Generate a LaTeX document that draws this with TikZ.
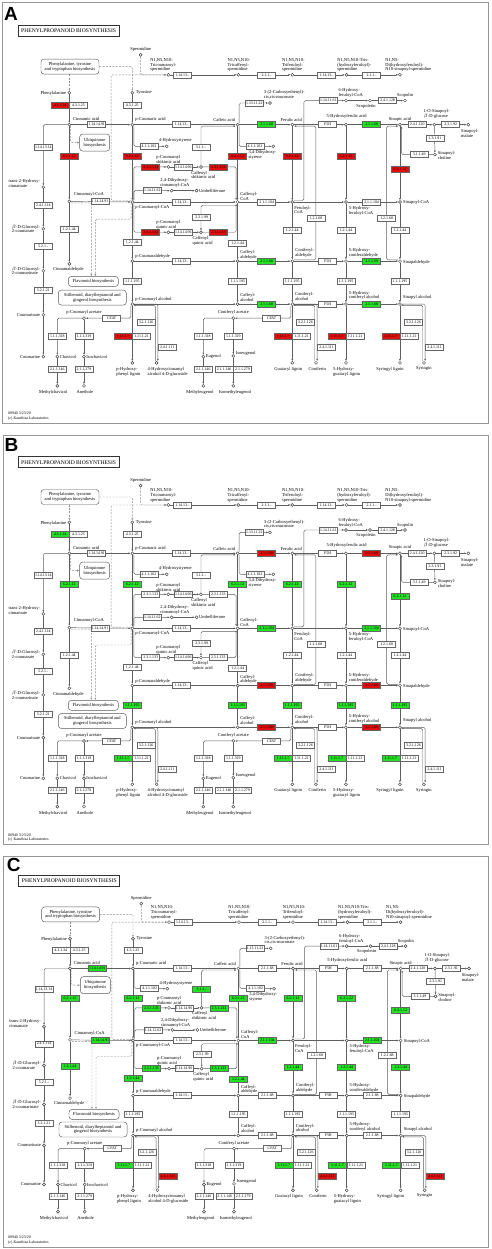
\documentclass[tikz,border=0pt]{standalone}
\usepackage{fontspec}
\setmainfont{Liberation Serif}
\newfontfamily\panelfont{Liberation Sans}
\usetikzlibrary{arrows.meta,positioning}
\pgfdeclarelayer{bg}
\pgfsetlayers{bg,main}
\definecolor{kred}{RGB}{226,14,14}
\definecolor{kgreen}{RGB}{36,224,36}
\definecolor{kline}{RGB}{95,95,95}
\definecolor{kframe}{RGB}{150,150,150}
% colour of each enzyme group, set again in each panel
\colorlet{cPAL}{white}
\colorlet{cCFH}{white}
\colorlet{cFCL}{white}
\colorlet{cHCT}{white}
\colorlet{cCSE}{white}
\colorlet{cCOMT}{white}
\colorlet{cCCOMT}{white}
\colorlet{cCCR}{white}
\colorlet{cCAD}{white}
\colorlet{cPRX}{white}
\colorlet{cUGT}{white}
\tikzset{
  enz/.style={draw=black!60, fill=#1, line width=0.4pt, minimum width=18pt,
    minimum height=6pt, inner sep=0.4pt, font=\fontsize{3.9}{4}\selectfont},
  enz/.default=white,
  cpd/.style={circle, draw=black!75, fill=white, line width=0.45pt,
    minimum size=3pt, inner sep=0pt},
  lbl/.style={font=\fontsize{4.5}{4.8}\selectfont, inner sep=0.3pt, align=left},
  mapbox/.style={draw=black!65, fill=white, rounded corners=3pt, line width=0.45pt,
    font=\fontsize{4.5}{4.8}\selectfont, align=center, inner sep=1pt},
  titlebox/.style={draw=black!80, fill=white, line width=0.8pt, minimum width=101pt,
    minimum height=11pt, inner sep=0pt, font=\fontsize{5.6}{6}\selectfont},
  ln/.style={draw=kline, line width=0.45pt, rounded corners=1.5pt},
  arr/.style={ln, -{Latex[length=2.2pt,width=1.9pt]}},
  dln/.style={ln, draw=black!45, dash pattern=on 2pt off 1.3pt},
  darr/.style={dln, -{Latex[open,length=2.2pt,width=2pt]}},
  dfarr/.style={dln, -{Latex[length=2.2pt,width=1.9pt]}},
  panelframe/.style={draw=kframe, line width=0.8pt},
  plet/.style={font=\panelfont\fontsize{19}{19}\bfseries\selectfont, inner sep=0pt},
  foot/.style={font=\fontsize{3.9}{4.7}\selectfont, inner sep=0pt, align=left},
}
\newcommand\keggmap{%
  % title and linked maps
  \node[titlebox] (title) at (206,142) {PHENYLPROPANOID BIOSYNTHESIS};
  \node[mapbox, minimum width=58pt, minimum height=15pt] (paa) at (210,246) {Phenylalanine, tyrosine\\and tryptophan biosynthesis};
  \node[mapbox, minimum width=30pt, minimum height=17pt] (ubq) at (284,467) {Ubiquinone\\biosynthesis};
  \node[mapbox, minimum width=50pt, minimum height=10pt] (flv) at (280,871) {Flavonoid biosynthesis};
  \node[mapbox, minimum width=68pt, minimum height=15pt] (stb) at (277,918) {Stilbenoid, diarylheptanoid and\\gingerol biosynthesis};
  % compounds
  \node[cpd] (spd) at (422,212) {};
  \node[cpd] (tcs) at (505,270) {};
  \node[cpd] (tcaf) at (715,270) {};
  \node[cpd] (tfer) at (877,270) {};
  \node[cpd] (thfs) at (1040,270) {};
  \node[cpd] (dhs) at (1200,270) {};
  \node[cpd] (phe) at (208,322) {};
  \node[cpd] (tyr) at (397,322) {};
  \node[cpd] (cin) at (208,415) {};
  \node[cpd] (pca) at (397,415) {};
  \node[cpd] (caf) at (713,415) {};
  \node[cpd] (fer) at (877,415) {};
  \node[cpd] (hfa) at (1038,415) {};
  \node[cpd] (sin) at (1200,415) {};
  \node[cpd] (sglc) at (1303,415) {};
  \node[cpd] (smal) at (1405,415) {};
  \node[cpd] (schol) at (1305,502) {};
  \node[cpd] (cmuc) at (810,352) {};
  \node[cpd] (hfc6) at (1038,345) {};
  \node[cpd] (scop) at (1110,345) {};
  \node[cpd] (scpn) at (1215,345) {};
  \node[cpd] (hst) at (500,478) {};
  \node[cpd] (dhst) at (820,478) {};
  \node[cpd] (t2h) at (130,597) {};
  \node[cpd] (bgc) at (130,718) {};
  \node[cpd] (bgcn) at (130,840) {};
  \node[cpd] (cmt) at (130,968) {};
  \node[cpd] (cmn) at (130,1090) {};
  \node[cpd] (cincoa) at (208,638) {};
  \node[cpd] (pcoa) at (397,640) {};
  \node[cpd] (cafcoa) at (713,640) {};
  \node[cpd] (fercoa) at (877,640) {};
  \node[cpd] (hfcoa) at (1038,640) {};
  \node[cpd] (scoa) at (1200,640) {};
  \node[cpd] (pcsh) at (505,538) {};
  \node[cpd] (cfsh) at (603,538) {};
  \node[cpd] (dhcc) at (515,607) {};
  \node[cpd] (umb) at (590,607) {};
  \node[cpd] (pcq) at (505,728) {};
  \node[cpd] (cfq) at (603,728) {};
  \node[cpd] (cal) at (208,820) {};
  \node[cpd] (pcal) at (397,812) {};
  \node[cpd] (cfal) at (713,812) {};
  \node[cpd] (coal) at (877,812) {};
  \node[cpd] (hcoal) at (1038,812) {};
  \node[cpd] (sal) at (1200,812) {};
  \node[cpd] (pcol) at (397,937) {};
  \node[cpd] (cfol) at (713,937) {};
  \node[cpd] (cool) at (877,937) {};
  \node[cpd] (hcool) at (1038,937) {};
  \node[cpd] (sol) at (1200,937) {};
  \node[cpd] (pcac) at (252,978) {};
  \node[cpd] (coac) at (700,978) {};
  \node[cpd] (chav) at (172,1090) {};
  \node[cpd] (ichav) at (252,1090) {};
  \node[cpd] (mchav) at (172,1175) {};
  \node[cpd] (anet) at (252,1175) {};
  \node[cpd] (eug) at (610,1090) {};
  \node[cpd] (ieug) at (700,1088) {};
  \node[cpd] (meug) at (610,1175) {};
  \node[cpd] (imeug) at (700,1175) {};
  \node[cpd] (hpl) at (397,1108) {};
  \node[cpd] (hcg) at (470,1108) {};
  \node[cpd] (gl) at (877,1108) {};
  \node[cpd] (cnf) at (948,1108) {};
  \node[cpd] (hgl) at (1038,1108) {};
  \node[cpd] (syl) at (1200,1108) {};
  \node[cpd] (syr) at (1272,1108) {};
  % compound names
  \node[lbl, anchor=south] (spdL) at (422,204) {Spermidine};
  \node[lbl, anchor=south] (tcsL) at (490,263) {N1,N5,N10-\\Tricoumaroyl-\\spermidine};
  \node[lbl, anchor=south] (tcafL) at (717,263) {N1,N5,N10-\\Tricaffeoyl-\\spermidine};
  \node[lbl, anchor=south] (tferL) at (880,263) {N1,N5,N10-\\Triferuloyl-\\spermidine};
  \node[lbl, anchor=south] (thfsL) at (1063,263) {N1,N5,N10-Tris-\\(hydroxyferuloyl)-\\spermidine};
  \node[lbl, anchor=south] (dhsL) at (1225,263) {N1,N5-\\Di(hydroxyferuloyl)-\\N10-sinapoyl-spermidine};
  \node[lbl, anchor=east] (pheL) at (200,325) {Phenylalanine};
  \node[lbl, anchor=west] (tyrL) at (406,322) {Tyrosine};
  \node[lbl, anchor=south west] (cinL) at (218,405) {Cinnamic acid};
  \node[lbl, anchor=south west] (pcaL) at (405,408) {p-Coumaric acid};
  \node[lbl, anchor=south east] (cafL) at (707,408) {Caffeic acid};
  \node[lbl, anchor=south] (ferL) at (874,408) {Ferulic acid};
  \node[lbl, anchor=south] (hfaL) at (1040,398) {5-Hydroxyferulic acid};
  \node[lbl, anchor=south] (sinL) at (1200,406) {Sinapic acid};
  \node[lbl, anchor=south] (sglcL) at (1310,398) {1-O-Sinapoyl-\\$\beta$-D-glucose};
  \node[lbl, anchor=north west] (smalL) at (1382,428) {Sinapoyl-\\malate};
  \node[lbl, anchor=west] (scholL) at (1312,505) {Sinapoyl-\\choline};
  \node[lbl, anchor=south west] (cmucL) at (790,342) {3-(2-Carboxyethenyl)-\\cis,cis-muconate};
  \node[lbl, anchor=south] (hfc6L) at (1052,338) {6-Hydroxy-\\feruloyl-CoA};
  \node[lbl, anchor=north] (scopL) at (1098,354) {Scopoletin};
  \node[lbl, anchor=south west] (scpnL) at (1190,338) {Scopolin};
  \node[lbl, anchor=south west] (hstL) at (475,468) {4-Hydroxystyrene};
  \node[lbl, anchor=north] (dhstL) at (788,488) {3,4-Dihydroxy-\\styrene};
  \node[lbl, anchor=south east] (t2hL) at (122,600) {trans-2-Hydroxy-\\cinnamate};
  \node[lbl, anchor=east] (bgcL) at (122,718) {$\beta$-D-Glucosyl-\\2-coumarate};
  \node[lbl, anchor=east] (bgcnL) at (122,840) {$\beta$-D-Glucosyl-\\2-coumarinate};
  \node[lbl, anchor=east] (cmtL) at (122,968) {Coumarinate};
  \node[lbl, anchor=east] (cmnL) at (122,1090) {Coumarine};
  \node[lbl, anchor=south west] (cincoaL) at (220,625) {Cinnamoyl-CoA};
  \node[lbl, anchor=north west] (pcoaL) at (405,648) {p-Coumaroyl-CoA};
  \node[lbl, anchor=south west] (cafcoaL) at (720,636) {Caffeoyl-\\CoA};
  \node[lbl, anchor=north west] (fercoaL) at (882,650) {Feruloyl-\\CoA};
  \node[lbl, anchor=north west] (hfcoaL) at (1045,652) {5-Hydroxy-\\feruloyl-CoA};
  \node[lbl, anchor=west] (scoaL) at (1208,642) {Sinapoyl-CoA};
  \node[lbl, anchor=south] (pcshL) at (505,530) {p-Coumaroyl\\shikimic acid};
  \node[lbl, anchor=north] (cfshL) at (610,548) {Caffeoyl\\shikimic acid};
  \node[lbl, anchor=south] (dhccL) at (525,600) {2,4-Dihydroxy-\\cinnamoyl-CoA};
  \node[lbl, anchor=west] (umbL) at (596,607) {Umbelliferone};
  \node[lbl, anchor=south] (pcqL) at (505,720) {p-Coumaroyl\\quinic acid};
  \node[lbl, anchor=north] (cfqL) at (608,738) {Caffeoyl\\quinic acid};
  \node[lbl, anchor=north] (calL) at (205,830) {Cinnamaldehyde};
  \node[lbl, anchor=south west] (pcalL) at (405,806) {p-Coumaraldehyde};
  \node[lbl, anchor=south west] (cfalL) at (720,808) {Caffeyl-\\aldehyde};
  \node[lbl, anchor=south west] (coalL) at (885,803) {Coniferyl-\\aldehyde};
  \node[lbl, anchor=south west] (hcoalL) at (1045,803) {5-Hydroxy-\\coniferaldehyde};
  \node[lbl, anchor=west] (salL) at (1208,815) {Sinapaldehyde};
  \node[lbl, anchor=south west] (pcolL) at (405,930) {p-Coumaryl alcohol};
  \node[lbl, anchor=south west] (cfolL) at (720,930) {Caffeyl-\\alcohol};
  \node[lbl, anchor=south west] (coolL) at (884,927) {Coniferyl-\\alcohol};
  \node[lbl, anchor=south west] (hcoolL) at (1045,926) {5-Hydroxy-\\coniferyl alcohol};
  \node[lbl, anchor=south west] (solL) at (1208,925) {Sinapyl alcohol};
  \node[lbl, anchor=south] (pcacL) at (252,970) {p-Coumaryl acetate};
  \node[lbl, anchor=south] (coacL) at (700,970) {Coniferyl acetate};
  \node[lbl, anchor=west] (chavL) at (178,1090) {Chavicol};
  \node[lbl, anchor=west] (ichavL) at (258,1090) {Isochavicol};
  \node[lbl, anchor=north] (mchavL) at (160,1188) {Methylchavicol};
  \node[lbl, anchor=north] (anetL) at (255,1188) {Anethole};
  \node[lbl, anchor=west] (eugL) at (616,1090) {Eugenol};
  \node[lbl, anchor=west] (ieugL) at (706,1080) {Isoeugenol};
  \node[lbl, anchor=north] (meugL) at (600,1188) {Methyleugenol};
  \node[lbl, anchor=north] (imeugL) at (705,1188) {Isomethyleugenol};
  \node[lbl, anchor=north] (hplL) at (385,1120) {p-Hydroxy-\\phenyl lignin};
  \node[lbl, anchor=north] (hcgL) at (503,1120) {4-Hydroxycinnamyl\\alcohol 4-D-glucoside};
  \node[lbl, anchor=north] (glL) at (865,1120) {Guaiacyl lignin};
  \node[lbl, anchor=north] (cnfL) at (952,1120) {Coniferin};
  \node[lbl, anchor=north] (hglL) at (1040,1120) {5-Hydroxy-\\guaiacyl lignin};
  \node[lbl, anchor=north] (sylL) at (1170,1120) {Syringyl lignin};
  \node[lbl, anchor=north] (syrL) at (1272,1118) {Syringin};
  % enzymes
  \node[enz] (e1) at (547,270) {1.14.13.-};
  \node[enz] (e2) at (800,270) {2.1.1.-};
  \node[enz] (e3) at (980,270) {1.14.13.-};
  \node[enz] (e4) at (1115,270) {2.1.1.-};
  \node[enz=cPAL, anchor=east] (pal) at (208,358) {4.3.1.24};
  \node[enz, anchor=west] (tal1) at (208,358) {4.3.1.25};
  \node[enz] (tal2) at (397,358) {4.3.1.25};
  \node[enz=cCFH] (c4h1) at (290,415) {1.14.14.91};
  \node[enz] (c3h1) at (545,415) {1.14.13.-};
  \node[enz=cCOMT] (comt1) at (800,415) {2.1.1.68};
  \node[enz] (f5h1) at (983,415) {F5H};
  \node[enz=cCOMT] (comt2) at (1115,415) {2.1.1.68};
  \node[enz] (sgt) at (1252,415) {2.4.1.120};
  \node[enz] (sst) at (1352,415) {2.3.1.92};
  \node[enz] (scl) at (1305,455) {2.3.1.91};
  \node[enz] (sce) at (1258,502) {3.1.1.49};
  \node[enz] (ccmo) at (763,352) {1.13.11.22};
  \node[enz] (f6h) at (985,345) {1.14.11.61};
  \node[enz] (sgl) at (1163,345) {2.4.1.128};
  \node[enz] (c2h) at (130,480) {1.14.13.14};
  \node[enz] (gt) at (130,650) {2.4.1.114};
  \node[enz] (iso) at (130,770) {5.2.1.-};
  \node[enz] (bgl) at (130,898) {3.2.1.21};
  \node[enz] (pad1) at (447,478) {4.1.1.102};
  \node[enz] (pad2) at (765,478) {4.1.1.102};
  \node[enz=cFCL] (fcl1) at (208,508) {6.2.1.12};
  \node[enz=cFCL] (fcl2) at (397,508) {6.2.1.12};
  \node[enz=cFCL] (fcl3) at (713,508) {6.2.1.12};
  \node[enz=cFCL] (fcl4) at (877,508) {6.2.1.12};
  \node[enz=cFCL] (fcl5) at (1038,508) {6.2.1.12};
  \node[enz=cFCL] (fcl6) at (1200,545) {6.2.1.12};
  \node[enz=cCSE] (cse) at (603,480) {3.1.1.-};
  \node[enz=cHCT] (hct1) at (452,538) {2.3.1.133};
  \node[enz] (c3h2) at (550,538) {1.14.14.96};
  \node[enz=cHCT] (hct2) at (655,538) {2.3.1.133};
  \node[enz] (c2h2) at (457,607) {1.14.11.62};
  \node[enz=cCFH] (c4h2) at (300,639) {1.14.14.91};
  \node[enz] (c3h3) at (545,640) {1.14.13.-};
  \node[enz=cCCOMT] (ccomt1) at (800,640) {2.1.1.104};
  \node[enz=cCCOMT] (ccomt2) at (1115,640) {2.1.1.104};
  \node[enz=cHCT] (hqt1) at (452,728) {2.3.1.133};
  \node[enz] (c3h4) at (550,728) {1.14.14.96};
  \node[enz=cHCT] (hqt2) at (655,728) {2.3.1.133};
  \node[enz] (hqt3) at (605,684) {2.3.1.99};
  \node[enz=cCCR] (ccr1) at (208,720) {1.2.1.44};
  \node[enz=cCCR] (ccr2) at (397,758) {1.2.1.44};
  \node[enz=cCCR] (ccr3) at (713,760) {1.2.1.44};
  \node[enz=cCCR] (ccr4) at (877,722) {1.2.1.44};
  \node[enz=cCCR] (ccr5) at (1038,722) {1.2.1.44};
  \node[enz=cCCR] (ccr6) at (1200,722) {1.2.1.44};
  \node[enz] (ald1) at (948,687) {1.2.1.68};
  \node[enz] (ald2) at (1160,687) {1.2.1.68};
  \node[enz] (c3h5) at (545,812) {1.14.13.-};
  \node[enz=cCOMT] (comt3) at (800,812) {2.1.1.68};
  \node[enz] (f5h2) at (983,812) {F5H};
  \node[enz=cCOMT] (comt4) at (1115,812) {2.1.1.68};
  \node[enz=cCAD] (cad1) at (397,870) {1.1.1.195};
  \node[enz=cCAD] (cad2) at (713,870) {1.1.1.195};
  \node[enz=cCAD] (cad3) at (877,870) {1.1.1.195};
  \node[enz=cCAD] (cad4) at (1038,870) {1.1.1.195};
  \node[enz=cCAD] (cad5) at (1200,870) {1.1.1.195};
  \node[enz=cCOMT] (comt5) at (800,937) {2.1.1.68};
  \node[enz] (f5h3) at (983,937) {F5H};
  \node[enz=cCOMT] (comt6) at (1115,937) {2.1.1.68};
  \node[enz] (cfat1) at (335,978) {CFAT};
  \node[enz] (cfat2) at (815,978) {CFAT};
  \node[enz] (eus1) at (172,1030) {1.1.1.318};
  \node[enz] (ies1) at (252,1030) {1.1.1.319};
  \node[enz] (omt1) at (172,1127) {2.1.1.146};
  \node[enz] (omt2) at (252,1127) {2.1.1.279};
  \node[enz] (eus2) at (610,1030) {1.1.1.318};
  \node[enz] (ies2) at (700,1030) {1.1.1.319};
  \node[enz] (omt3) at (610,1127) {2.1.1.146};
  \node[enz, anchor=east] (omt4) at (700,1127) {2.1.1.146};
  \node[enz, anchor=west] (omt5) at (700,1127) {2.1.1.279};
  \node[enz=cPRX, anchor=east] (prx1) at (397,1030) {1.11.1.7};
  \node[enz, anchor=west] (lac1) at (397,1030) {1.11.1.21};
  \node[enz=cPRX, anchor=east] (prx2) at (877,1030) {1.11.1.7};
  \node[enz, anchor=west] (lac2) at (877,1030) {1.11.1.21};
  \node[enz=cPRX, anchor=east] (prx3) at (1038,1030) {1.11.1.7};
  \node[enz, anchor=west] (lac3) at (1038,1030) {1.11.1.21};
  \node[enz=cPRX, anchor=east] (prx4) at (1200,1030) {1.11.1.7};
  \node[enz, anchor=west] (lac4) at (1200,1030) {1.11.1.21};
  \node[enz, anchor=east] (bglu1) at (466,990) {3.2.1.126};
  \node[enz, anchor=east] (bglu2) at (944,990) {3.2.1.126};
  \node[enz, anchor=east] (bglu3) at (1268,990) {3.2.1.126};
  \node[enz=cUGT, anchor=west] (ugt1) at (474,1063) {2.4.1.111};
  \node[enz=cUGT, anchor=west] (ugt2) at (952,1063) {2.4.1.111};
  \node[enz=cUGT, anchor=west] (ugt3) at (1276,1063) {2.4.1.111};
  % reactions, under the boxes
  \begin{pgfonlayer}{bg}
    \draw[dfarr] (spd) |- (tcs);
    \draw[dfarr] (pcoa.north west) -- ++(-60,0) |- (tcs);
    \draw[darr] (paa.south -| phe) -- (phe);
    \draw[darr] (paa.east) -| (tyr);
    \draw[arr] (tcs) -- (tcaf);
    \draw[arr] (tcaf) -- (tfer);
    \draw[arr] (tfer) -- (thfs);
    \draw[arr] (thfs) -- (dhs);
    \draw[arr] (phe) -- (cin);
    \draw[arr] (tyr) -- (pca);
    \draw[arr] (cin) -- (pca);
    \draw[arr] (cin) -| (t2h);
    \draw[darr] (cin.south east) |- (ubq);
    \draw[arr] (cin) -- (cincoa);
    \draw[arr] (cincoa) -- (pcoa);
    \draw[arr] (cincoa) -- (cal);
    \draw[darr] ([yshift=-1.5pt]cincoa.east) -| ([xshift=-2pt]flv.north);
    \draw[darr] (pcoa.south west) |- (286,690) -- ([xshift=2pt]flv.north);
    \draw[arr] (t2h) -- (bgc);
    \draw[arr] (bgc) -- (bgcn);
    \draw[arr] (bgcn) -- (cmt);
    \draw[arr] (cmt) -- (cmn);
    \draw[arr] (pca) -- (pcoa);
    \draw[arr] ([xshift=1.5pt]pca.south) |- (hst);
    \draw[arr] (pca) -- (caf);
    \draw[arr] ([xshift=1.5pt]pcoa.north) |- (pcsh);
    \draw[arr] ([xshift=1.5pt]pcoa.north) |- (dhcc);
    \draw[arr] (dhcc) -- (umb);
    \draw[arr] (pcsh) -- (cfsh);
    \draw[arr] (cfsh) -| ([xshift=-1.5pt]cafcoa.north);
    \draw[arr] (cfsh) |- ([yshift=-1.5pt]caf.west);
    \draw[arr] (pcoa) -- (cafcoa);
    \draw[arr] ([xshift=1.5pt]pcoa.south) |- (pcq);
    \draw[arr] (pcq) -- (cfq);
    \draw[arr] (cfq) -| ([xshift=-1.5pt]cafcoa.south);
    \draw[arr] ([yshift=-1.5pt]cafcoa.south) -| (cfq);
    \draw[arr] (pcoa) -- (pcal);
    \draw[arr] ([xshift=1.5pt]caf.north) |- (cmuc);
    \draw[arr] ([xshift=1.5pt]caf.south) |- (dhst);
    \draw[arr] (caf) -- (fer);
    \draw[arr] (caf) -- (cafcoa);
    \draw[arr] (cafcoa) -- (fercoa);
    \draw[arr] (cafcoa) -- (cfal);
    \draw[arr] (pcal) -- (cfal);
    \draw[arr] (pcal) -- (pcol);
    \draw[arr] (pcol) -- (cfol);
    \draw[arr] ([xshift=-1.5pt]pcol.south) |- (pcac);
    \draw[arr] (pcac) -| (chav);
    \draw[arr] (pcac) -- (ichav);
    \draw[arr] (chav) -- (mchav);
    \draw[arr] (ichav) -- (anet);
    \draw[arr] (pcol) -- (hpl);
    \draw[arr] (pcol) -| ([xshift=1.2pt]hcg.north);
    \draw[arr] ([xshift=-1.2pt]hcg.north) |- (pcol.south east);
    \draw[arr] (cfal) -- (coal);
    \draw[arr] (cfal) -- (cfol);
    \draw[arr] (cfol) -- (cool);
    \draw[arr] (fer) -- (hfa);
    \draw[arr] (hfa) -- (sin);
    \draw[arr] (fer) -- (fercoa);
    \draw[arr] ([yshift=1.5pt]fercoa.east) -| (912,420) |- (hfc6);
    \draw[arr] (hfc6) -- (scop);
    \draw[arr] (scop) -- (scpn);
    \draw[arr] ([yshift=1.2pt]coal.east) -| (948,600) |- ([yshift=-1.5pt]fer.east);
    \draw[arr] (fercoa) -- (hfcoa);
    \draw[arr] (fercoa) -- (coal);
    \draw[arr] (coal) -- (hcoal);
    \draw[arr] (coal) -- (cool);
    \draw[arr] (cool) -- (hcool);
    \draw[arr] ([xshift=-1.5pt]cool.south) |- (coac);
    \draw[arr] (coac) -| (eug);
    \draw[arr] (coac) -- (ieug);
    \draw[arr] (eug) -- (meug);
    \draw[arr] (ieug) -- (imeug);
    \draw[arr] (cool) -- (gl);
    \draw[arr] (cool) -| ([xshift=1.2pt]cnf.north);
    \draw[arr] ([xshift=-1.2pt]cnf.north) |- (cool.south east);
    \draw[arr] (hfa) -- (hfcoa);
    \draw[arr] (hfcoa) -- (scoa);
    \draw[arr] (hfcoa) -- (hcoal);
    \draw[arr] (hcoal) -- (sal);
    \draw[arr] (hcoal) -- (hcool);
    \draw[arr] (hcool) -- (sol);
    \draw[arr] (hcool) -- (hgl);
    \draw[arr] (sin) -- (scoa);
    \draw[arr] (scoa) -- (sal);
    \draw[arr] (sal) -- (sol);
    \draw[arr] (sol) -- (syl);
    \draw[arr] (sol) -| ([xshift=1.2pt]syr.north);
    \draw[arr] ([xshift=-1.2pt]syr.north) |- (sol.south east);
    \draw[arr] ([yshift=1.2pt]sal.west) -| (1160,600) |- ([yshift=-1.5pt]sin.west);
    \draw[arr] (sin) -- (sglc);
    \draw[arr] (sglc) -- (smal);
    \draw[arr] (sglc) -- (schol);
    \draw[arr] (schol) -| ([xshift=1.5pt]sin.south);
  \end{pgfonlayer}%
}
\begin{document}
\begin{tikzpicture}[x=1pt,y=-1pt]
  \useasboundingbox (0,0) rectangle (491,1249);
  \begin{pgfonlayer}{bg}
    \fill[white] (0,0) rectangle (491,1249);
  \end{pgfonlayer}
  % panel A
  \draw[panelframe] (2,2) rectangle (488.5,423);
  \node[plet] (labA) at (11,13.5) {A};
  \node[foot, anchor=south west] (footA) at (8,420.5) {00940 3/23/20\\(c) Kanehisa Laboratories};
  \begin{scope}[x=0.3333pt, y=-0.3437pt, yshift=17.96pt]
    \colorlet{cPAL}{kred}
    \colorlet{cFCL}{kred}
    \colorlet{cHCT}{kred}
    \colorlet{cCOMT}{kgreen}
    \colorlet{cPRX}{kred}
    \keggmap
  \end{scope}
  % panel B
  \draw[panelframe] (3,435) rectangle (488.5,844);
  \node[plet] (labB) at (11.5,445) {B};
  \node[foot, anchor=south west] (footB) at (8,842) {00940 3/23/20\\(c) Kanehisa Laboratories};
  \begin{scope}[x=0.3333pt, y=-0.3333pt, yshift=-415pt]
    \colorlet{cPAL}{kgreen}
    \colorlet{cFCL}{kgreen}
    \colorlet{cCOMT}{kred}
    \colorlet{cCCOMT}{kgreen}
    \colorlet{cCAD}{kgreen}
    \colorlet{cPRX}{kgreen}
    \keggmap
  \end{scope}
  % panel C
  \draw[panelframe] (3,856) rectangle (488.5,1247);
  \node[plet] (labC) at (13.7,864.5) {C};
  \node[foot, anchor=south west] (footC) at (8,1244.5) {00940 3/23/20\\(c) Kanehisa Laboratories};
  \begin{scope}[x=0.3333pt, y=-0.32pt, yshift=-835.7pt, xshift=0.7pt]
    \colorlet{cCFH}{kgreen}
    \colorlet{cFCL}{kgreen}
    \colorlet{cCSE}{kgreen}
    \colorlet{cHCT}{kgreen}
    \colorlet{cCCOMT}{kgreen}
    \colorlet{cCCR}{kgreen}
    \colorlet{cPRX}{kgreen}
    \colorlet{cUGT}{kred}
    \keggmap
  \end{scope}
\end{tikzpicture}
\end{document}
